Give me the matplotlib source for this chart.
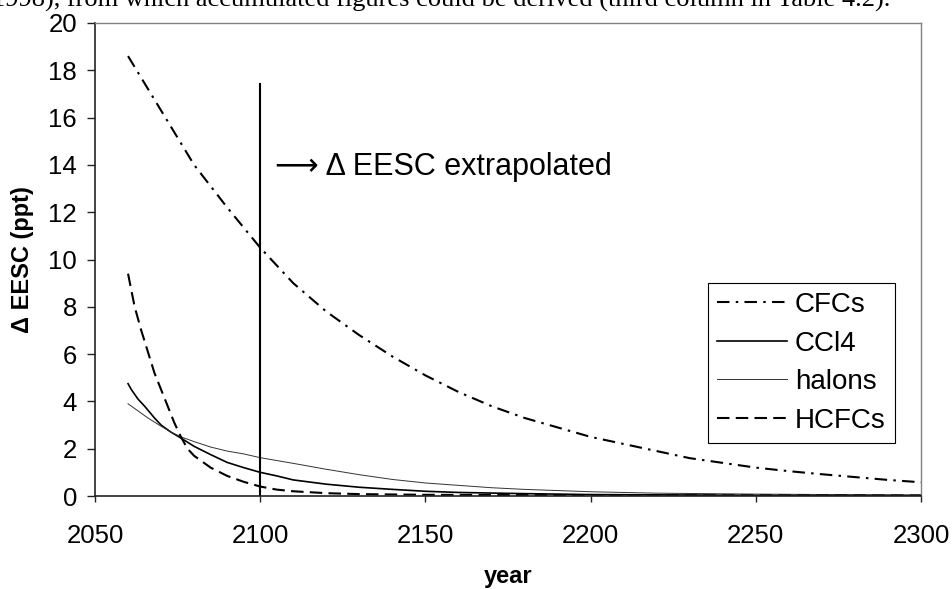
import matplotlib
matplotlib.use("Agg")
import matplotlib.pyplot as plt

plt.rcParams['font.family'] = ['Liberation Sans', 'DejaVu Sans']

cfc_years = [2060, 2070, 2080, 2090, 2100, 2110, 2120, 2130, 2140, 2150, 2160, 2170,
             2180, 2190, 2200, 2210, 2220, 2230, 2240, 2250, 2260, 2270, 2280, 2290, 2300]
cfc_vals = [18.6, 16.3, 14.0, 12.2, 10.5, 9.0, 7.8, 6.8, 5.9, 5.1, 4.4, 3.8,
            3.3, 2.9, 2.5, 2.2, 1.9, 1.6, 1.4, 1.2, 1.05, 0.92, 0.8, 0.68, 0.58]

ccl4_years = [2060, 2061, 2063, 2065, 2068, 2070, 2073, 2076, 2080, 2085, 2090, 2095, 2100,
              2105, 2110, 2120, 2130, 2140, 2150, 2160, 2180, 2200, 2250, 2300]
ccl4_vals = [4.75, 4.5, 4.1, 3.8, 3.3, 3.0, 2.7, 2.45, 2.1, 1.75, 1.42, 1.2, 1.0,
             0.85, 0.68, 0.5, 0.37, 0.28, 0.2, 0.15, 0.1, 0.06, 0.03, 0.02]

halon_years = [2060, 2063, 2066, 2070, 2073, 2076, 2080, 2085, 2090, 2095, 2100, 2105, 2110,
               2120, 2130, 2140, 2150, 2160, 2170, 2180, 2190, 2200, 2220, 2250, 2300]
halon_vals = [3.9, 3.6, 3.3, 2.95, 2.7, 2.5, 2.3, 2.07, 1.9, 1.78, 1.62, 1.5, 1.38,
              1.13, 0.9, 0.7, 0.55, 0.45, 0.35, 0.28, 0.23, 0.18, 0.12, 0.08, 0.04]

hcfc_years = [2060, 2062, 2064, 2066, 2068, 2070, 2072, 2074, 2076, 2078, 2080, 2085, 2090,
              2095, 2100, 2105, 2110, 2120, 2130, 2150, 2200, 2300]
hcfc_vals = [9.4, 8.0, 7.0, 6.1, 5.2, 4.5, 3.8, 3.1, 2.5, 2.0, 1.7, 1.2, 0.85,
             0.6, 0.4, 0.27, 0.2, 0.12, 0.08, 0.05, 0.03, 0.02]

marker_year = 2100
marker_top = 17.4
annotation = "\u27f6 \u0394 EESC extrapolated"
x_ticks = [2050, 2100, 2150, 2200, 2250, 2300]
y_ticks = list(range(0, 21, 2))

fig = plt.figure(figsize=(9.53, 5.89), dpi=100)
ax = fig.add_axes([95/953, 1-496/589, (921-95)/953, (496-23)/589])

ax.plot(cfc_years, cfc_vals, color='black', lw=1.5, linestyle=(0, (6, 3, 1.2, 3)), label='CFCs')
ax.plot(ccl4_years, ccl4_vals, color='black', lw=1.2, label='CCl4')
ax.plot(halon_years, halon_vals, color='#333333', lw=0.7, label='halons')
ax.plot(hcfc_years, hcfc_vals, color='black', lw=1.5, linestyle=(0, (6, 3)), label='HCFCs')

ax.plot([marker_year, marker_year], [0, marker_top], color='black', lw=1.5)
ax.text(2104.5, 13.9, annotation, fontsize=22, va='center', ha='left')

ax.set_xlim(2050, 2300)
ax.set_ylim(0, 20)
ax.set_xticks(x_ticks)
ax.set_yticks(y_ticks)
ax.tick_params(axis='both', labelsize=18.5, width=1, direction='out', colors='#222222', labelcolor='black')
ax.tick_params(axis='y', length=6, pad=7)
ax.tick_params(axis='x', length=4.5, pad=16)

for s in ['top', 'right']:
    ax.spines[s].set_color('#808080')
    ax.spines[s].set_linewidth(1.0)
ax.spines['left'].set_color('#222222')
ax.spines['bottom'].set_color('#222222')
ax.spines['left'].set_linewidth(1.2)
ax.spines['bottom'].set_linewidth(1.2)

ax.set_xlabel('year', fontsize=17, fontweight='bold', labelpad=12)
ax.set_ylabel('\u0394 EESC (ppt)', fontsize=17, fontweight='bold', labelpad=10)

leg = ax.legend(loc='upper left', bbox_to_anchor=((708-95)/826, (496-283)/473), fontsize=20,
                frameon=True, fancybox=False, edgecolor='black', framealpha=1,
                handlelength=2.5, handletextpad=0.3, borderpad=0.33, labelspacing=0.45,
                borderaxespad=0)
leg.get_frame().set_linewidth(0.8)

fig.text(-0.008, 1-7/589, "1998), from which accumulated figures could be derived (third column in Table 4.2).",
         fontsize=19, family='Liberation Serif', va='baseline', ha='left')

fig.savefig('out.png', dpi=100)
